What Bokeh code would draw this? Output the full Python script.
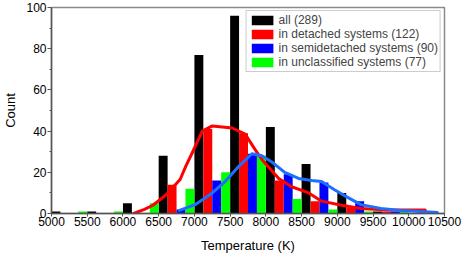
from bokeh.plotting import figure
from bokeh.models import ColumnDataSource, Range1d, FixedTicker, Legend, LegendItem
from bokeh.transform import dodge
from bokeh.embed import file_html
from bokeh.resources import INLINE

# ---- data ----
bins = [5000, 5500, 6000, 6500, 7000, 7500, 8000, 8500, 9000, 9500, 10000]
all_counts = [1, 1, 5, 28, 77, 96, 42, 24, 10, 1, 0]
detached = [0, 0, 0, 14, 41, 39, 16, 6, 3, 1, 1]
semidetached = [0, 0, 0, 2, 16, 29, 19, 15, 6, 1, 1]
unclassified = [1, 1, 5, 12, 20, 28, 7, 2, 1, 1, 0]

detached_fit_x = [6150, 6300, 6420, 6600, 6800, 6880, 6970, 7110, 7250, 7530, 7710,
                  7850, 7950, 8180, 8360, 8600, 8780, 9060, 9330, 9700, 10230]
detached_fit_y = [0, 2, 4, 9, 16.5, 23, 29.5, 40, 42.5, 41.5, 38.5,
                  31, 26, 17, 13, 10, 6, 4, 2.4, 1.7, 1.7]

semi_fit_x = [6790, 7010, 7250, 7430, 7625, 7806, 7944, 8083, 8264, 8458, 8640,
              8780, 8960, 9150, 9330, 9610, 9890, 10170, 10400]
semi_fit_y = [1.5, 4.3, 10, 15.5, 23, 29, 28, 25, 20, 17, 16,
              15.5, 11.5, 7.7, 4.3, 2.4, 1.5, 1, 0.5]

labels = ["all (289)", "in detached systems (122)",
          "in semidetached systems (90)", "in unclassified systems (77)"]
x_ticks = list(range(5000, 10501, 500))
y_ticks = [0, 20, 40, 60, 80, 100]
y_minor = [10, 30, 50, 70, 90]

FONT = "Liberation Sans"

src = ColumnDataSource(dict(bin=bins, all=all_counts, det=detached,
                            semi=semidetached, uncl=unclassified))

p = figure(width=464, height=255, output_backend="svg", toolbar_location=None,
           x_range=Range1d(5000, 10500), y_range=Range1d(0, 100),
           min_border_left=48, min_border_right=20, min_border_top=7,
           min_border_bottom=41)

p.xgrid.visible = False
p.ygrid.visible = False
p.outline_line_color = "#8a8a8a"
p.outline_line_width = 1.5

bw = 125
r_all = p.vbar(x=dodge("bin", 62.5, range=p.x_range), top="all", width=bw, source=src,
               fill_color="black", line_color=None)
r_det = p.vbar(x=dodge("bin", 187.5, range=p.x_range), top="det", width=bw, source=src,
               fill_color="#ff0000", line_color=None)
r_semi = p.vbar(x=dodge("bin", 312.5, range=p.x_range), top="semi", width=bw, source=src,
                fill_color="#0000ff", line_color=None)
r_uncl = p.vbar(x=dodge("bin", 437.5, range=p.x_range), top="uncl", width=bw, source=src,
                fill_color="#00ff00", line_color=None)

p.line(detached_fit_x, detached_fit_y, line_color="#ff0000", line_width=3,
       line_join="round", line_cap="round")
p.line(semi_fit_x, semi_fit_y, line_color="#1e6eff", line_width=3,
       line_join="round", line_cap="round")

for ax in (p.xaxis[0], p.yaxis[0]):
    ax.axis_line_color = "#555555"
    ax.axis_line_width = 1.5
    ax.major_tick_line_color = "#555555"
    ax.minor_tick_line_color = "#555555"
    ax.major_tick_in = 0
    ax.minor_tick_in = 0
    ax.major_label_text_font = FONT
    ax.major_label_text_font_size = "12px"
    ax.major_label_text_color = "black"
    ax.axis_label_text_font = FONT
    ax.axis_label_text_font_size = "13px"
    ax.axis_label_text_font_style = "normal"
    ax.axis_label_text_color = "black"

p.xaxis.ticker = FixedTicker(ticks=x_ticks)
p.xaxis.major_tick_out = 3
p.xaxis.minor_tick_line_color = None
p.xaxis.major_label_standoff = 0
p.xaxis.axis_label = "Temperature (K)"
p.xaxis.axis_label_standoff = 9

p.yaxis.ticker = FixedTicker(ticks=y_ticks, minor_ticks=y_minor)
p.yaxis.major_tick_out = 4
p.yaxis.minor_tick_out = 2
p.yaxis.major_label_standoff = 1
p.yaxis.axis_label = "Count"
p.yaxis.axis_label_standoff = 5

legend = Legend(items=[LegendItem(label=labels[0], renderers=[r_all]),
                       LegendItem(label=labels[1], renderers=[r_det]),
                       LegendItem(label=labels[2], renderers=[r_semi]),
                       LegendItem(label=labels[3], renderers=[r_uncl])],
                location="top_right")
legend.margin = 3
legend.padding = 2
legend.spacing = 0
legend.glyph_width = 27
legend.glyph_height = 12
legend.label_height = 12
legend.label_standoff = 3
legend.label_text_font = FONT
legend.label_text_font_size = "12px"
legend.border_line_color = "#9a9a9a"
legend.border_line_width = 1.5
legend.background_fill_color = "white"
legend.background_fill_alpha = 1
p.add_layout(legend)

open("out.html", "w").write(file_html(p, INLINE))
